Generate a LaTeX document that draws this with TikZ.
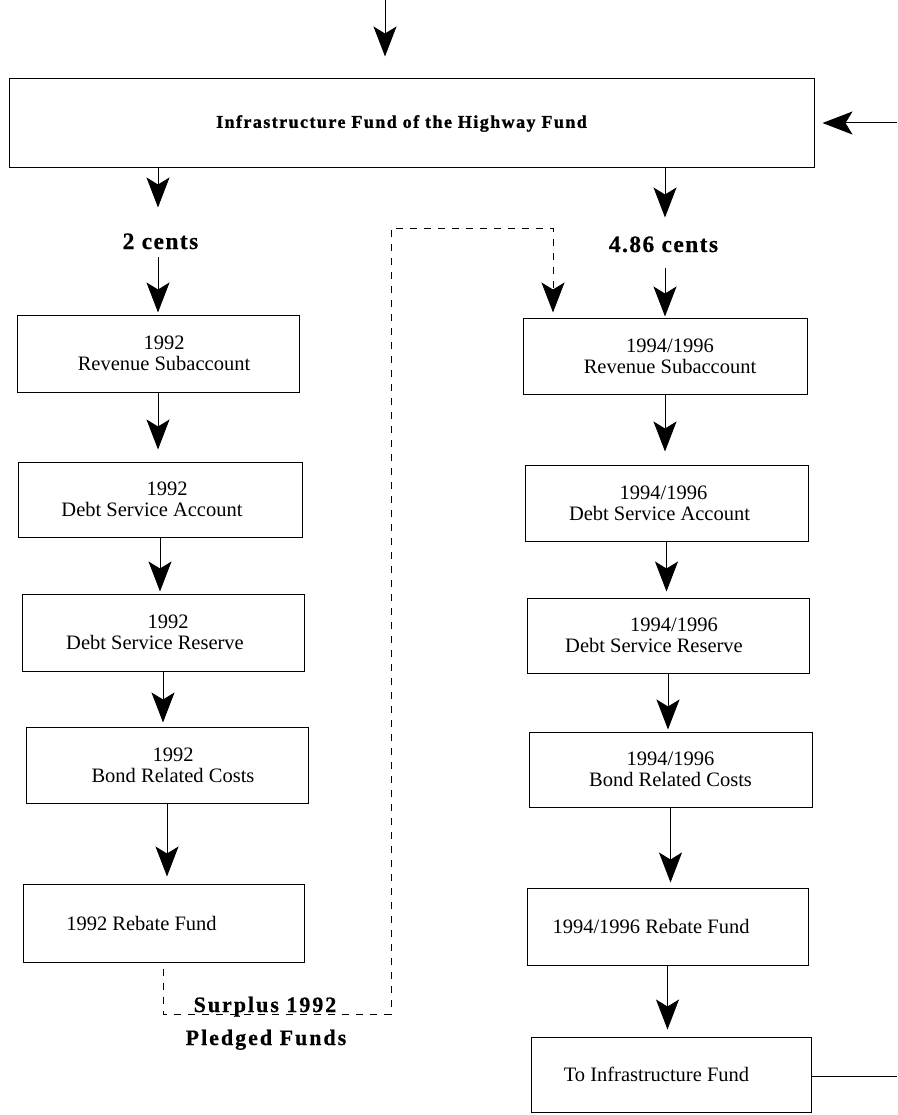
\documentclass[tikz,border=0pt]{standalone}
\usepackage{fontspec}
\setmainfont{Liberation Serif}
\newfontfamily\titlefont[LetterSpace=8, FakeBold=1.2]{Liberation Serif}
\newfontfamily\lblfont[LetterSpace=6, FakeBold=0.6]{Liberation Serif}
\newfontfamily\surfont[LetterSpace=9, FakeBold=0.6]{Liberation Serif}
\usetikzlibrary{arrows.meta,calc}
\newcommand\mv[2]{\makebox[0pt]{\hspace*{#1}\hspace*{#1}#2}}
\tikzset{
  box/.style={draw, line width=1pt, minimum width=282pt, minimum height=76pt,
    inner sep=0pt, align=center, font={\fontsize{20.5}{21}\selectfont}},
  tip/.tip={Stealth[length=30pt,width=23pt,inset=7pt]},
  arr/.style={line width=1pt, -tip},
  conn/.style={line width=1pt},
  dashline/.style={line width=0.9pt, dash pattern=on 7pt off 7pt},
  cents/.style={anchor=base, inner sep=0pt, font={\lblfont\bfseries\fontsize{23.5}{26}\selectfont}},
  surlbl/.style={anchor=base, inner sep=0pt, font={\surfont\bfseries\fontsize{22}{24}\selectfont}}
}
\begin{document}
\begin{tikzpicture}[x=1pt,y=-1pt]
\useasboundingbox (0,0) rectangle (897,1115);

% top box
\node[box, minimum width=805pt, minimum height=89pt] (Top) at (411.5,123.5)
  {\raisebox{-4.5pt}{\mv{-10pt}{\titlefont\bfseries\fontsize{18}{20}\selectfont Infrastructure Fund of the Highway Fund}}};

% labels
\node[cents] (c2) at (160.5,249) {2 cents};
\node[cents] (c486) at (663.5,252) {4.86 cents};

% left column
\node[box, minimum width=282pt, minimum height=77pt] (L1) at (158,353.5) {\mv{6pt}{1992}\\\mv{6pt}{Revenue Subaccount}};
\node[box, minimum width=284pt, minimum height=75pt] (L2) at (160,499.5) {\mv{7pt}{1992}\\\mv{-8pt}{Debt Service Account}};
\node[box, minimum width=282pt, minimum height=77pt] (L3) at (163,632.5) {\mv{5pt}{1992}\\\mv{-8pt}{Debt Service Reserve}};
\node[box, minimum width=282pt, minimum height=76pt] (L4) at (167,765) {\mv{6pt}{1992}\\\mv{6pt}{Bond Related Costs}};
\node[box, minimum width=281pt, minimum height=78pt] (L5) at (163.5,923) {\mv{-22pt}{1992 Rebate Fund}};

% right column
\node[box, minimum width=284pt, minimum height=76pt] (R1) at (665,356) {\mv{5pt}{1994/1996}\\\mv{5pt}{Revenue Subaccount}};
\node[box, minimum width=283pt, minimum height=76pt] (R2) at (666.5,503) {\mv{-3pt}{1994/1996}\\\mv{-7pt}{Debt Service Account}};
\node[box, minimum width=282pt, minimum height=75pt] (R3) at (668,635.5) {\mv{6pt}{1994/1996}\\\mv{-14pt}{Debt Service Reserve}};
\node[box, minimum width=283pt, minimum height=75pt] (R4) at (670.5,769.5) {\mv{0pt}{1994/1996}\\\mv{0pt}{Bond Related Costs}};
\node[box, minimum width=281pt, minimum height=77pt] (R5) at (667.5,926.5) {\mv{-16.5pt}{1994/1996 Rebate Fund}};
\node[box, minimum width=280pt, minimum height=75pt] (R6) at (671,1074.5) {\mv{-14.5pt}{To Infrastructure Fund}};

% surplus labels
\node[surlbl] (sur) at (265,1012) {Surplus 1992};
\node[surlbl] (pled) at (266,1045) {Pledged Funds};

% incoming arrows
\coordinate (topin) at (385,0);
\draw[arr, shorten >=22pt] (topin) -- (topin |- Top.north);
\coordinate (rin) at (897,123);
\draw[arr, shorten >=8pt] (rin) -- (rin -| Top.east);

% split
\draw[arr] (Top.south -| L1.north) -- ++(0,39);
\draw[arr] (Top.south -| R1.north) -- ++(0,49);
\draw[arr, shorten <=8pt, shorten >=2pt] (c2.south -| L1.north) -- (L1.north);
\draw[arr, shorten <=15pt, shorten >=1pt] (c486.south -| R1.north) -- (R1.north);

% left chain
\draw[arr, shorten >=12pt] (L1.south) -- (L1.south |- L2.north);
\draw[arr, shorten >=2pt] (L2.south) -- (L2.south |- L3.north);
\draw[arr, shorten >=4pt] (L3.south) -- (L3.south |- L4.north);
\draw[arr, shorten >=7pt] (L4.south) -- (L4.south |- L5.north);

% right chain
\draw[arr, shorten >=13pt] (R1.south) -- (R1.south |- R2.north);
\draw[arr, shorten >=6pt] (R2.south) -- (R2.south |- R3.north);
\draw[arr, shorten >=2pt] (R3.south) -- (R3.south |- R4.north);
\draw[arr, shorten >=5pt] (R4.south) -- (R4.south |- R5.north);
\draw[arr, shorten >=7pt] (R5.south) -- (R5.south |- R6.north);

% outgoing line
\coordinate (rout) at (897,1076);
\draw[conn] (rout -| R6.east) -- (rout);

% dashed surplus route
\coordinate (d1) at (391,1014);
\coordinate (d2) at (553,228);
\draw[dashline, -tip, shorten >=5pt]
  ([yshift=-6pt]L5.south) |- (d1) |- (d2) -- (d2 |- R1.north);
\end{tikzpicture}
\end{document}
